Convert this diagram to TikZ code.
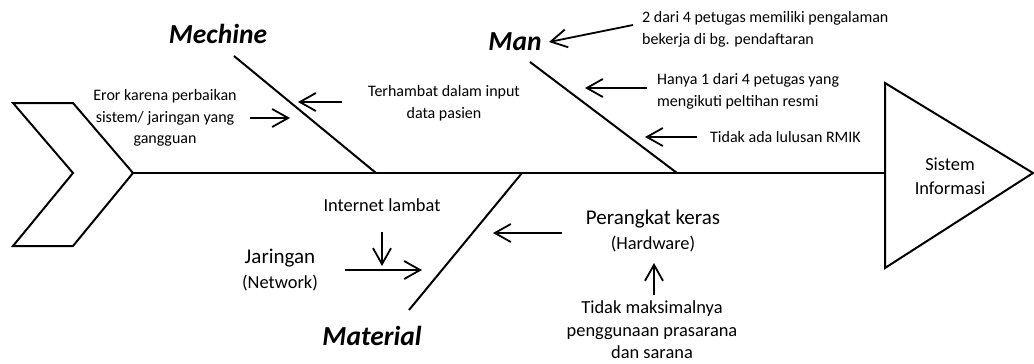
\documentclass[tikz,border=0pt]{standalone}
\usepackage{fontspec}
\setmainfont{Carlito}
\usetikzlibrary{arrows.meta}
\begin{document}
\begin{tikzpicture}[x=1pt,y=-1pt,
  bone/.style={line width=2pt},
  arr/.style={line width=1.8pt,-{Straight Barb[length=16pt,width=18pt,line width=1.8pt]}},
  cat/.style={font=\fontsize{27.5}{30}\selectfont\bfseries\itshape,inner sep=0pt},
  txt/.style={font=\fontsize{16}{21.5}\selectfont,align=center,inner sep=0pt},
  big/.style={font=\fontsize{21}{24}\selectfont,align=center,inner sep=0pt},
  mid/.style={font=\fontsize{18.4}{22.5}\selectfont,align=center,inner sep=0pt},
  txtl/.style={font=\fontsize{16}{22}\selectfont,align=left,inner sep=0pt,anchor=west}]
\useasboundingbox (0,0) rectangle (1034,364);
% tail
\draw[bone,line join=miter] (13,103) -- (73,103) -- (133,173) -- (73,246) -- (13,246) -- (73,173) -- cycle;
\coordinate (spineL) at (133,173);
% head
\draw[bone,line join=miter] (885,83) -- (1033,173) -- (885,268) -- cycle;
\coordinate (spineR) at (885,173);
\draw[bone] (spineL) -- (spineR);
\node[mid,font=\fontsize{18.4}{24.5}\selectfont] (si) at (950,176) {Sistem\\Informasi};
% bones
\coordinate (m1) at (234,56); \coordinate (m2) at (376,173);
\draw[bone] (m1) -- (m2);
\coordinate (n1) at (530,62); \coordinate (n2) at (677,173);
\draw[bone] (n1) -- (n2);
\coordinate (t1) at (522,173); \coordinate (t2) at (409,310);
\draw[bone] (t1) -- (t2);
% categories
\node[cat] (mech) at (218,34) {Mechine};
\node[cat] (man) at (515,42) {Man};
\node[cat] (mat) at (372,336) {Material};
% Mechine causes
\node[txt] (eror) at (165,118) {Eror karena perbaikan\\sistem/ jaringan yang\\gangguan};
\coordinate (eA) at (250,118); \coordinate (eB) at (290,118);
\draw[arr] (eA) -- (eB);
\node[txt] (terh) at (444,103) {Terhambat dalam input\\data pasien};
\coordinate (tA) at (342,102); \coordinate (tB) at (298,102);
\draw[arr] (tA) -- (tB);
% Man causes
\node[txtl] (dua) at (642,29) {2 dari 4 petugas memiliki pengalaman\\bekerja di bg. pendaftaran};
\coordinate (dA) at (633,25); \coordinate (dB) at (549,42);
\draw[arr] (dA) -- (dB);
\node[txtl] (hanya) at (657,91) {Hanya 1 dari 4 petugas yang\\mengikuti peltihan resmi};
\coordinate (hA) at (647,88); \coordinate (hB) at (585,88);
\draw[arr] (hA) -- (hB);
\node[txtl] (rmik) at (710,137) {Tidak ada lulusan RMIK};
\coordinate (rA) at (697,137); \coordinate (rB) at (645,137);
\draw[arr] (rA) -- (rB);
% Material causes
\node[mid] (inet) at (382,205) {Internet lambat};
\coordinate (iA) at (382,232); \coordinate (iB) at (382,266);
\draw[arr] (iA) -- (iB);
\node[big] (jar) at (280,258) {Jaringan};
\node[mid] (net) at (280,283) {(Network)};
\coordinate (jA) at (345,270); \coordinate (jB) at (422,270);
\draw[arr] (jA) -- (jB);
\node[big] (per) at (653,219) {Perangkat keras};
\node[mid] (hw) at (653,244) {(Hardware)};
\coordinate (pA) at (562,233); \coordinate (pB) at (493,233);
\draw[arr] (pA) -- (pB);
\coordinate (uA) at (654,295); \coordinate (uB) at (654,263);
\draw[arr] (uA) -- (uB);
\node[mid] (tdk) at (652,330) {Tidak maksimalnya\\penggunaan prasarana\\dan sarana};
\end{tikzpicture}
\end{document}
